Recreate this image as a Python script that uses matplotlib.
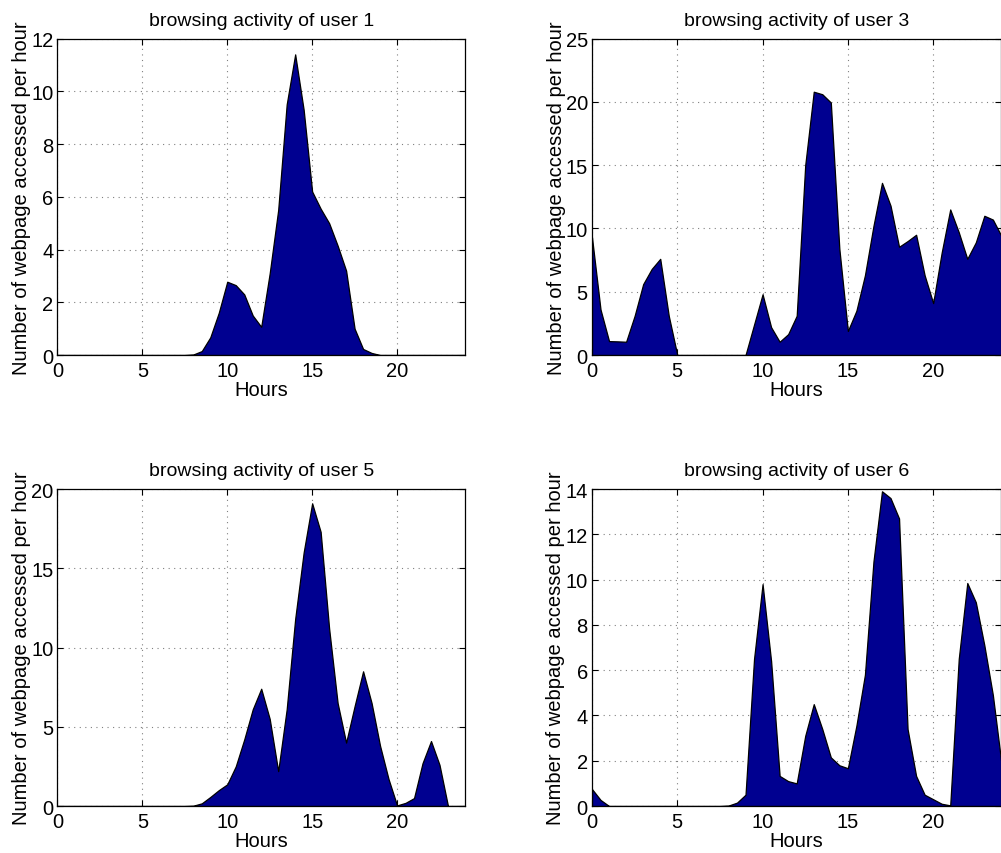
import numpy as np
import matplotlib.pyplot as plt

plt.rcParams['font.family'] = ['Liberation Sans', 'DejaVu Sans']

hours = np.arange(0, 24.5, 0.5)

user1 = [0, 0, 0, 0, 0, 0, 0, 0, 0, 0, 0, 0, 0, 0, 0, 0, 0.02,
         0.15, 0.67, 1.6, 2.78, 2.65, 2.3, 1.5, 1.07, 3.1, 5.5, 9.5, 11.4,
         9.3, 6.2, 5.55, 5.0, 4.15, 3.2, 1.0, 0.23, 0.08, 0, 0, 0,
         0, 0, 0, 0, 0, 0, 0, 0]

user3 = [9.3, 3.6, 1.1, 1.08, 1.05, 3.1, 5.6, 6.8, 7.6, 3.1, 0, 0,
         0, 0, 0, 0, 0, 0, 0, 2.4, 4.8, 2.2, 1.05, 1.65, 3.1, 15.0,
         20.8, 20.6, 19.95, 8.4, 1.9, 3.5, 6.3, 10.2, 13.6, 11.8, 8.55,
         9.0, 9.5, 6.3, 4.1, 8.1, 11.5, 9.7, 7.6, 8.9, 11.0, 10.7, 9.4]

user5 = [0, 0, 0, 0, 0, 0, 0, 0, 0, 0, 0, 0, 0, 0, 0, 0, 0.02,
         0.17, 0.57, 1.0, 1.37, 2.5, 4.2, 6.1, 7.4, 5.5, 2.2, 6.1, 11.8,
         16.0, 19.1, 17.3, 11.2, 6.5, 4.0, 6.3, 8.5, 6.5, 3.8, 1.7, 0.04,
         0.2, 0.5, 2.7, 4.1, 2.6, 0, 0, 0]

user6 = [0.75, 0.27, 0, 0, 0, 0, 0, 0, 0, 0, 0, 0, 0, 0, 0, 0, 0.02,
         0.15, 0.5, 6.5, 9.8, 6.4, 1.33, 1.1, 1.0, 3.1, 4.5, 3.4, 2.15,
         1.8, 1.67, 3.55, 5.8, 10.8, 13.9, 13.6, 12.7, 3.4, 1.33, 0.5, 0.3,
         0.1, 0.03, 6.5, 9.85, 9.0, 7.1, 4.9, 1.9]

titles = ['browsing activity of user 1', 'browsing activity of user 3',
          'browsing activity of user 5', 'browsing activity of user 6']
series = [user1, user3, user5, user6]
ymax = [12, 25, 20, 14]
ystep = [2, 5, 5, 2]

fig = plt.figure(figsize=(10.01, 8.54), dpi=100)
positions = [[0.0574, 0.5831, 0.4071, 0.3706],
             [0.5914, 0.5831, 0.4090, 0.3706],
             [0.0574, 0.0550, 0.4071, 0.3712],
             [0.5914, 0.0550, 0.4090, 0.3712]]

for pos, vals, title, top, step in zip(positions, series, titles, ymax, ystep):
    ax = fig.add_axes(pos)
    ax.fill_between(hours, vals, 0, facecolor='#000090', edgecolor='black',
                    linewidth=0.9, zorder=2)
    ax.set_xlim(0, 24)
    ax.set_ylim(0, top)
    ax.set_xticks([0, 5, 10, 15, 20])
    ax.set_yticks(np.arange(0, top + 0.1, step))
    ax.grid(True, color='#808080', linestyle=(0, (1, 4)), linewidth=0.8)
    ax.set_axisbelow(True)
    ax.tick_params(direction='in', top=True, right=True, length=4,
                   labelsize=14.5, width=0.8)
    ax.tick_params(axis='x', pad=4)
    ax.tick_params(axis='y', pad=3)
    for s in ax.spines.values():
        s.set_linewidth(0.9)
    ax.set_title(title, fontsize=14, pad=10)
    ax.set_xlabel('Hours', fontsize=14.5, labelpad=0)
    ax.set_ylabel('Number of webpage accessed per hour', fontsize=14.5, labelpad=0)

fig.savefig('out.png', dpi=100)
